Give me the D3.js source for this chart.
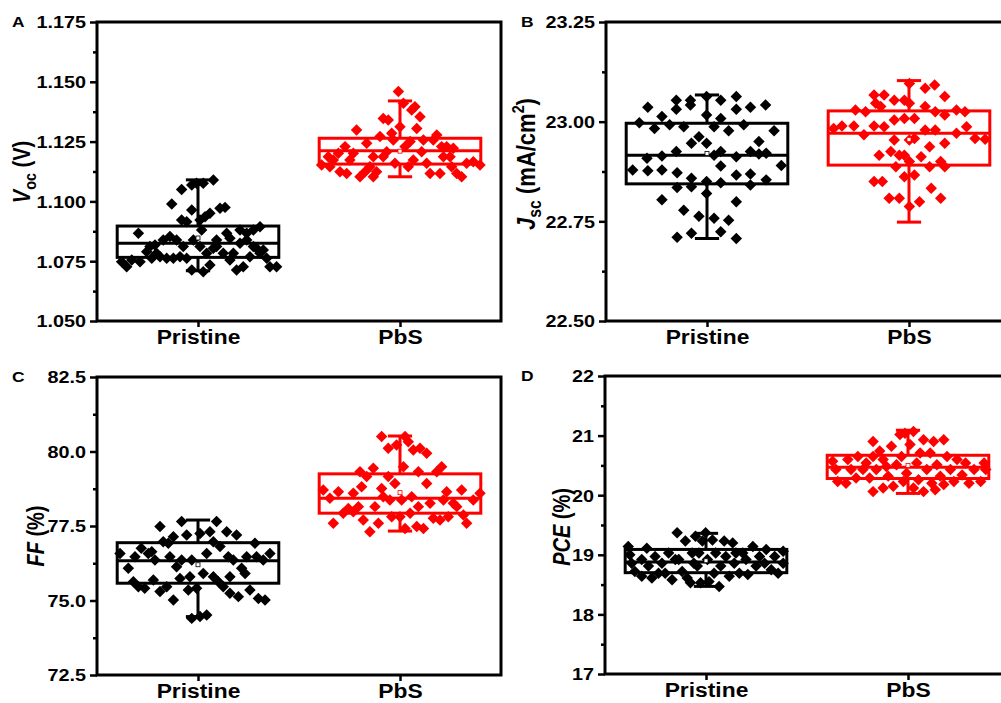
<!DOCTYPE html>
<html><head><meta charset="utf-8">
<script src="https://cdn.jsdelivr.net/npm/d3@7"></script>
<style>
body{margin:0;background:#fff}
svg{display:block}
text{font-family:"Liberation Sans",Arial,Helvetica,sans-serif;font-weight:bold;fill:#000}
</style>
</head><body>
<svg id="chart" width="1001" height="703"></svg>
<script>
const categories = ["Pristine", "PbS"];
const seriesColors = ["#000000", "#ff0000"];

// [jitter offset (category units), value]
const vocPristine = [[-0.353,1.0727],[-0.378,1.0748],[-0.328,1.0755],[-0.287,1.0748],[-0.295,1.0867],[-0.254,1.0790],[-0.229,1.0762],[-0.188,1.0769],[-0.155,1.0762],[-0.122,1.0762],[-0.089,1.0769],[-0.056,1.0762],[-0.213,1.0818],[-0.172,1.0839],[-0.139,1.0853],[-0.106,1.0839],[-0.073,1.0811],[-0.130,1.0989],[-0.081,1.1050],[-0.031,1.1069],[-0.007,1.1076],[0.026,1.1076],[0.076,1.1089],[-0.081,1.0922],[-0.056,1.0915],[-0.031,1.0964],[0.010,1.0922],[0.035,1.0936],[0.059,1.0950],[0.109,1.0971],[0.134,1.0975],[0.018,1.0880],[-0.023,1.0839],[0.010,1.0811],[0.043,1.0783],[0.076,1.0804],[-0.031,1.0713],[0.026,1.0706],[0.059,1.0734],[0.092,1.0811],[0.125,1.0783],[0.158,1.0755],[0.175,1.0783],[0.158,1.0846],[0.191,1.0713],[0.224,1.0727],[0.208,1.0880],[0.241,1.0867],[0.274,1.0880],[0.307,1.0894],[0.274,1.0811],[0.307,1.0783],[0.340,1.0762],[0.323,1.0797],[0.356,1.0727],[0.389,1.0727],[0.257,1.0769],[0.290,1.0804],[0.208,1.0825],[0.241,1.0839],[0.092,1.0839],[0.142,1.0867],[-0.238,1.0811],[-0.205,1.0783]];
const vocPbS = [[-0.388,1.1152],[-0.355,1.1187],[-0.330,1.1173],[-0.297,1.1124],[-0.264,1.1117],[-0.272,1.1229],[-0.248,1.1173],[-0.215,1.1298],[-0.198,1.1103],[-0.173,1.1124],[-0.165,1.1243],[-0.132,1.1187],[-0.116,1.1124],[-0.099,1.1271],[-0.083,1.1347],[-0.058,1.1340],[-0.066,1.1208],[-0.041,1.1285],[-0.025,1.1159],[-0.008,1.1459],[0.000,1.1312],[0.017,1.1410],[0.025,1.1229],[0.041,1.1145],[0.058,1.1382],[0.074,1.1396],[0.083,1.1305],[0.099,1.1354],[0.107,1.1208],[0.132,1.1159],[0.165,1.1257],[0.182,1.1278],[0.198,1.1117],[0.215,1.1187],[0.231,1.1229],[0.256,1.1145],[0.264,1.1222],[0.281,1.1117],[0.305,1.1103],[0.330,1.1159],[0.363,1.1166],[0.396,1.1152],[0.149,1.1117],[0.066,1.1173],[0.050,1.1250],[-0.149,1.1145],[-0.231,1.1201],[-0.083,1.1187],[-0.033,1.1257],[0.116,1.1257],[0.206,1.1229],[-0.305,1.1201],[-0.347,1.1145],[0.248,1.1187],[-0.132,1.1103]];
const jscPristine = [[-0.368,22.879],[-0.335,22.997],[-0.293,23.036],[-0.297,22.908],[-0.293,22.877],[-0.260,22.983],[-0.223,23.013],[-0.223,22.914],[-0.223,22.879],[-0.223,22.804],[-0.185,22.992],[-0.152,23.054],[-0.152,23.031],[-0.152,22.925],[-0.148,22.872],[-0.148,22.835],[-0.148,22.710],[-0.115,22.987],[-0.115,22.778],[-0.082,23.054],[-0.082,23.042],[-0.077,22.946],[-0.077,22.858],[-0.077,22.837],[-0.077,22.720],[-0.040,22.962],[-0.040,22.763],[-0.002,23.063],[-0.002,23.017],[-0.002,22.946],[-0.002,22.850],[-0.002,22.820],[0.035,22.987],[0.035,22.758],[0.068,23.054],[0.068,23.008],[0.068,22.925],[0.068,22.889],[0.068,22.847],[0.068,22.724],[0.107,22.977],[0.107,22.753],[0.145,23.063],[0.145,23.031],[0.145,22.912],[0.145,22.866],[0.145,22.799],[0.145,22.707],[0.182,22.992],[0.215,23.036],[0.215,22.925],[0.215,22.869],[0.215,22.841],[0.257,22.950],[0.257,22.919],[0.290,23.042],[0.293,22.921],[0.293,22.854],[0.332,22.977],[0.368,22.890],[0.035,22.916]];
const jscPbS = [[-0.373,22.983],[-0.332,22.989],[-0.273,22.989],[-0.265,23.029],[-0.223,22.967],[-0.215,23.025],[-0.173,22.989],[-0.173,23.067],[-0.173,22.850],[-0.165,23.046],[-0.148,22.916],[-0.132,22.850],[-0.123,23.067],[-0.123,22.987],[-0.098,22.808],[-0.090,22.925],[-0.073,23.054],[-0.073,23.004],[-0.073,22.954],[-0.065,22.887],[-0.048,22.916],[-0.048,22.808],[-0.023,23.054],[-0.023,23.008],[-0.023,22.862],[0.002,23.096],[0.002,23.046],[0.002,22.954],[0.002,22.900],[0.002,22.787],[0.027,23.008],[0.027,22.958],[0.027,22.866],[0.052,22.799],[0.060,22.912],[0.080,23.084],[0.080,23.038],[0.080,22.979],[0.102,22.937],[0.102,22.887],[0.110,22.833],[0.127,23.092],[0.130,23.025],[0.130,22.979],[0.157,22.900],[0.157,22.808],[0.177,23.063],[0.177,23.017],[0.177,22.946],[0.177,22.887],[0.235,23.029],[0.235,22.971],[0.277,23.025],[0.285,22.987],[0.327,22.958],[0.377,22.956],[-0.023,22.916],[-0.140,23.038]];
const ffPristine = [[-0.386,76.58],[-0.345,76.08],[-0.312,76.47],[-0.320,75.63],[-0.295,75.46],[-0.264,75.41],[-0.281,76.75],[-0.246,76.58],[-0.221,75.69],[-0.213,76.36],[-0.188,77.48],[-0.188,75.30],[-0.172,76.97],[-0.147,76.92],[-0.155,75.46],[-0.122,75.02],[-0.122,77.14],[-0.106,76.13],[-0.089,75.74],[-0.081,76.36],[-0.081,77.65],[-0.056,77.20],[-0.048,75.35],[-0.031,76.36],[-0.031,74.40],[-0.007,75.41],[0.010,77.25],[0.010,74.46],[0.026,75.91],[0.043,74.51],[0.043,76.58],[0.059,77.31],[0.076,76.97],[0.076,75.80],[0.092,77.65],[0.101,75.63],[0.109,76.81],[0.125,75.46],[0.142,77.31],[0.150,76.47],[0.158,75.80],[0.175,76.36],[0.191,77.20],[0.200,75.13],[0.216,76.08],[0.233,75.91],[0.241,76.47],[0.257,75.35],[0.282,76.92],[0.290,76.47],[0.299,75.07],[0.332,75.02],[0.323,76.36],[0.356,76.58],[-0.229,76.64],[-0.040,75.80],[0.158,75.24],[-0.139,76.47]];
const ffPbS = [[-0.380,78.71],[-0.347,78.43],[-0.330,77.59],[-0.305,78.65],[-0.281,77.93],[-0.256,78.09],[-0.231,77.98],[-0.206,78.15],[-0.198,79.32],[-0.190,78.82],[-0.182,77.70],[-0.165,79.16],[-0.149,77.31],[-0.132,79.44],[-0.124,78.15],[-0.107,77.59],[-0.091,80.50],[-0.091,78.76],[-0.058,79.16],[-0.058,80.11],[-0.050,78.37],[-0.041,77.81],[-0.025,78.93],[-0.017,80.22],[0.000,77.81],[0.017,79.49],[0.025,80.50],[0.025,77.42],[0.041,80.33],[0.058,78.48],[0.066,80.05],[0.083,77.48],[0.091,79.32],[0.091,78.15],[0.099,80.11],[0.116,77.42],[0.132,79.94],[0.132,78.93],[0.149,78.26],[0.165,77.76],[0.182,79.32],[0.198,77.70],[0.206,79.49],[0.215,78.37],[0.231,78.65],[0.239,77.81],[0.264,78.26],[0.281,78.15],[0.305,78.71],[0.314,77.87],[0.330,77.59],[0.363,78.37],[0.396,78.60],[0.008,78.37],[-0.083,78.48],[-0.231,78.60],[0.050,77.93]];
const pcePristine = [[-0.385,19.14],[-0.377,19.00],[-0.368,18.86],[-0.352,18.72],[-0.318,18.64],[-0.293,19.11],[-0.285,18.81],[-0.268,18.61],[-0.252,18.97],[-0.218,18.86],[-0.202,18.69],[-0.185,19.03],[-0.168,18.58],[-0.143,19.37],[-0.135,18.92],[-0.118,18.72],[-0.102,19.23],[-0.093,18.61],[-0.077,18.53],[-0.068,19.03],[-0.052,19.31],[-0.043,18.81],[-0.027,18.53],[-0.018,19.23],[-0.002,19.37],[0.007,18.92],[0.015,18.55],[0.032,19.25],[0.040,18.69],[0.048,19.03],[0.065,18.47],[0.073,18.81],[0.090,19.23],[0.098,18.97],[0.115,18.64],[0.132,19.20],[0.140,18.86],[0.165,18.69],[0.182,19.03],[0.198,18.92],[0.207,18.67],[0.232,19.14],[0.248,18.81],[0.265,18.97],[0.290,18.86],[0.298,19.09],[0.323,18.75],[0.340,18.97],[0.357,18.69],[0.382,19.06],[0.382,18.86],[-0.318,18.92],[-0.235,18.69],[-0.152,18.92],[-0.060,18.86],[0.148,19.03],[-0.035,19.03]];
const pcePbS = [[-0.373,20.57],[-0.357,20.43],[-0.348,20.23],[-0.307,20.20],[-0.298,20.60],[-0.282,20.43],[-0.257,20.29],[-0.248,20.65],[-0.223,20.43],[-0.207,20.54],[-0.190,20.29],[-0.173,20.06],[-0.173,20.90],[-0.157,20.43],[-0.140,20.74],[-0.123,20.12],[-0.123,20.60],[-0.098,20.32],[-0.082,20.82],[-0.073,20.15],[-0.057,20.51],[-0.040,21.02],[-0.032,20.65],[-0.023,20.23],[-0.015,21.04],[-0.007,20.37],[0.010,20.85],[0.027,21.07],[0.027,20.12],[0.043,20.54],[0.052,20.26],[0.077,20.93],[0.077,20.06],[0.093,20.43],[0.110,20.71],[0.118,20.20],[0.127,20.90],[0.135,20.09],[0.143,20.51],[0.177,20.93],[0.177,20.18],[0.193,20.65],[0.210,20.43],[0.227,20.23],[0.243,20.60],[0.268,20.34],[0.285,20.54],[0.302,20.20],[0.327,20.43],[0.360,20.23],[0.377,20.54],[0.385,20.43],[-0.107,20.48],[0.060,20.71],[-0.173,20.65],[0.160,20.32]];

// box stats per category: [q1, median, q3, whiskerLow, whiskerHigh, mean]
const vocBox = [[1.0766,1.0825,1.0897,1.0710,1.1090,1.0847],[1.1156,1.1212,1.1264,1.1103,1.1420,1.1210]];
const jscBox = [[22.844,22.916,22.996,22.707,23.067,22.920],[22.891,22.971,23.027,22.748,23.103,22.955]];
const ffBox  = [[75.58,76.33,76.94,74.46,77.70,76.20],[77.93,78.43,79.25,77.33,80.52,78.62]];
const pceBox = [[18.70,18.88,19.09,18.47,19.36,18.90],[20.28,20.47,20.67,20.03,21.09,20.50]];

const vocTicks = [1.050,1.075,1.100,1.125,1.150,1.175];
const jscTicks = [22.50,22.75,23.00,23.25];
const ffTicks  = [72.5,75.0,77.5,80.0,82.5];
const pceTicks = [17,18,19,20,21,22];

const panels = [
  {letter:"A", x0:97, x1:501, y0:22, y1:321, domain:[1.050,1.175], ticks:vocTicks, fmt:".3f", series:[vocPristine,vocPbS], box:vocBox,
   title:[{t:"V",italic:true},{t:"oc",sub:true},{t:" (V)"}], tx:30, ty:172, fs:20, lx:12, ly:27},
  {letter:"B", x0:606, x1:1010, y0:22, y1:321, domain:[22.50,23.25], ticks:jscTicks, fmt:".2f", series:[jscPristine,jscPbS], box:jscBox,
   title:[{t:"J",italic:true},{t:"sc",sub:true},{t:" (mA/cm"},{t:"2",sup:true},{t:")"}], tx:535, ty:164, fs:22, lx:521, ly:27},
  {letter:"C", x0:97, x1:501, y0:377, y1:675, domain:[72.5,82.5], ticks:ffTicks, fmt:".1f", series:[ffPristine,ffPbS], box:ffBox,
   title:[{t:"FF",italic:true},{t:" (%)"}], tx:44, ty:536, fs:20, lx:12, ly:382},
  {letter:"D", x0:605, x1:1009, y0:376, y1:674, domain:[17,22], ticks:pceTicks, fmt:"d", series:[pcePristine,pcePbS], box:pceBox,
   title:[{t:"PCE",italic:true},{t:" (%)"}], tx:570, ty:527, fs:20, lx:521, ly:381}
];

const svg = d3.select("#chart");
const SX = 1.2; // horizontal stretch of the original figure text

panels.forEach(p => {
  const g = svg.append("g");
  const x = d3.scaleLinear().domain([0.5, 2.5]).range([p.x0, p.x1]);
  const y = d3.scaleLinear().domain(p.domain).range([p.y1, p.y0]);
  const step = p.ticks[1] - p.ticks[0];
  const minor = p.ticks.slice(0, -1).map(v => v + step / 2);

  // minor ticks
  g.append("g").attr("transform", `translate(${p.x0},0)`)
    .call(d3.axisLeft(y).tickValues(minor).tickSize(4).tickFormat(""))
    .call(a => a.select(".domain").remove())
    .call(a => a.selectAll("line").attr("stroke-width", 2.5));

  // major y axis
  const ya = g.append("g").attr("transform", `translate(${p.x0},0)`)
    .call(d3.axisLeft(y).tickValues(p.ticks).tickSize(7).tickPadding(4).tickFormat(d3.format(p.fmt)));
  ya.select(".domain").remove();
  ya.selectAll("line").attr("stroke-width", 2.5);
  ya.selectAll("text").attr("font-size", 16.5).attr("font-family", null)
    .attr("x", -11 / SX).attr("transform", `scale(${SX},1)`).attr("dy", "0.36em");

  // x axis
  const xa = g.append("g").attr("transform", `translate(0,${p.y1})`)
    .call(d3.axisBottom(x).tickValues([1, 2]).tickSize(6).tickFormat(i => categories[i - 1]));
  xa.select(".domain").remove();
  xa.selectAll("line").attr("stroke-width", 2.5);
  xa.selectAll("text").attr("font-size", 19.5).attr("font-family", null)
    .attr("y", 23).attr("dy", 0).attr("transform", `scale(1.17,1)`);

  // boxes
  p.box.forEach((b, i) => {
    const c = seriesColors[i];
    const cx = x(i + 1), hw = x(0.9) - x(0.5), cap = x(0.56) - x(0.5);
    const bg = g.append("g").attr("stroke", c).attr("stroke-width", 3).attr("fill", "none");
    bg.append("line").attr("x1", cx).attr("x2", cx).attr("y1", y(b[2])).attr("y2", y(b[4]));
    bg.append("line").attr("x1", cx).attr("x2", cx).attr("y1", y(b[0])).attr("y2", y(b[3]));
    bg.append("line").attr("x1", cx - cap).attr("x2", cx + cap).attr("y1", y(b[4])).attr("y2", y(b[4]));
    bg.append("line").attr("x1", cx - cap).attr("x2", cx + cap).attr("y1", y(b[3])).attr("y2", y(b[3]));
    bg.append("rect").attr("x", cx - hw).attr("width", 2 * hw).attr("y", y(b[2])).attr("height", y(b[0]) - y(b[2]));
    bg.append("line").attr("x1", cx - hw).attr("x2", cx + hw).attr("y1", y(b[1])).attr("y2", y(b[1]));
  });

  // points
  const sym = d3.symbol(d3.symbolSquare, 66)();
  p.series.forEach((s, i) => {
    g.append("g").selectAll("path").data(s).join("path")
      .attr("d", sym)
      .attr("fill", seriesColors[i])
      .attr("transform", d => `translate(${x(i + 1 + d[0])},${y(d[1])}) rotate(45)`);
  });

  // mean markers
  p.box.forEach((b, i) => {
    g.append("rect").attr("x", x(i + 1) - 2).attr("y", y(b[5]) - 2).attr("width", 4).attr("height", 4)
      .attr("fill", "#fff").attr("stroke", seriesColors[i]).attr("stroke-width", 0.8);
  });

  // frame
  g.append("rect").attr("x", p.x0).attr("y", p.y0).attr("width", p.x1 - p.x0).attr("height", p.y1 - p.y0)
    .attr("fill", "none").attr("stroke", "#000").attr("stroke-width", 3);

  // panel letter
  g.append("text").attr("transform", `translate(${p.lx},${p.ly}) scale(${SX},1)`)
    .attr("font-size", 14.5).text(p.letter);

  // y title
  const t = g.append("text").attr("transform", `translate(${p.tx},${p.ty}) scale(${SX},1) rotate(-90)`)
    .attr("text-anchor", "middle").attr("font-size", p.fs);
  let shift = 0;
  p.title.forEach(part => {
    const ts = t.append("tspan").text(part.t);
    if (part.italic) ts.attr("font-style", "italic");
    const target = part.sub ? 5 : part.sup ? -9 : 0;
    if (part.sub) ts.attr("font-size", p.fs * 0.72);
    if (part.sup) ts.attr("font-size", p.fs * 0.65);
    ts.attr("dy", target - shift);
    shift = target;
  });
});
</script>
</body></html>
